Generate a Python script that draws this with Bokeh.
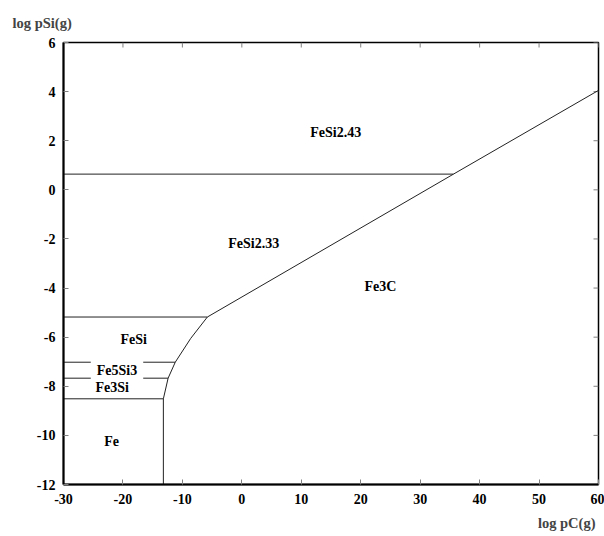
import math
from bokeh.plotting import figure
from bokeh.models import Label, Range1d, FixedTicker, Title
from bokeh.embed import file_html
from bokeh.resources import INLINE

# ---- data ----
x_ticks = [-30, -20, -10, 0, 10, 20, 30, 40, 50, 60]
y_ticks = [-12, -10, -8, -6, -4, -2, 0, 2, 4, 6]
x_min, x_max = -30, 60
y_min, y_max = -12, 6

# phase boundaries (log pC, log pSi)
fesi243_x = [-30, 35.6]
fesi243_y = [0.64, 0.64]
diag_x = [-5.8, 35.6, 60]
diag_y = [-5.18, 0.64, 4.05]
fesi_low_x = [-30, -5.8]
fesi_low_y = [-5.18, -5.18]
curve_x = [-5.8, -8.6, -11.2, -12.4, -13.2, -13.2]
curve_y = [-5.18, -6.05, -7.02, -7.67, -8.51, -12]
fe5si3_x = [-30, -11.2]
fe5si3_y = [-7.02, -7.02]
fe3si_x = [-30, -12.4]
fe3si_y = [-7.67, -7.67]
fe_x = [-30, -13.2]
fe_y = [-8.51, -8.51]

phase_names = ["FeSi2.43", "FeSi2.33", "Fe3C", "FeSi", "Fe5Si3", "Fe3Si", "Fe"]
phase_x = [15.8, 2.0, 23.3, -18.2, -21.0, -21.8, -21.9]
phase_y = [2.34, -2.17, -3.92, -6.11, -7.36, -8.07, -10.26]

FONT = "Liberation Serif"

p = figure(width=604, height=536, x_range=Range1d(x_min, x_max), y_range=Range1d(y_min, y_max),
           output_backend="svg", toolbar_location=None,
           min_border_left=63, min_border_right=6, min_border_top=42, min_border_bottom=51)
p.outline_line_color = "black"
p.outline_line_width = 1.5
p.xgrid.grid_line_color = None
p.ygrid.grid_line_color = None

xb = p.xaxis[0]
xb.ticker = FixedTicker(ticks=x_ticks)
xb.major_label_overrides = {t: str(t) for t in x_ticks}
yl = p.yaxis[0]
yl.ticker = FixedTicker(ticks=y_ticks)
yl.major_label_overrides = {t: str(t) for t in y_ticks}

for ax in (xb, yl):
    ax.axis_line_width = 2
    ax.axis_line_color = "black"
    ax.major_tick_in = 5
    ax.major_tick_out = 0
    ax.major_tick_line_color = "#808080"
    ax.minor_tick_line_color = None
    ax.major_label_text_font = FONT
    ax.major_label_text_font_style = "bold"
    ax.major_label_text_font_size = "14px"
    ax.major_label_text_color = "black"
xb.major_label_standoff = 9
yl.major_label_standoff = 8

# inward ticks on the top and right frame edges
p.ray(x=x_ticks, y=[y_max] * len(x_ticks), length=5, length_units="screen",
      angle=-math.pi / 2, line_color="#808080", line_width=1)
p.ray(x=[x_max] * len(y_ticks), y=y_ticks, length=5, length_units="screen",
      angle=math.pi, line_color="#808080", line_width=1)

for xs, ys in [(fesi243_x, fesi243_y), (diag_x, diag_y), (fesi_low_x, fesi_low_y),
               (curve_x, curve_y), (fe5si3_x, fe5si3_y), (fe3si_x, fe3si_y), (fe_x, fe_y)]:
    p.line(xs, ys, line_color="#222222", line_width=1)

for name, x, y in zip(phase_names, phase_x, phase_y):
    kw = {}
    if name == "Fe5Si3":
        kw = dict(background_fill_color="white", padding=6)
    p.add_layout(Label(x=x, y=y, text=name, text_font=FONT, text_font_style="bold",
                       text_font_size="14px", text_align="center", text_baseline="middle",
                       text_color="black", **kw))

p.add_layout(Title(text="log pSi(g)", align="left", offset=-51, standoff=24,
                   text_font=FONT, text_font_style="bold", text_font_size="14.5px"), "above")
p.add_layout(Title(text="log pC(g)", align="right", offset=3, standoff=12,
                   text_font=FONT, text_font_style="bold", text_font_size="14.5px"), "below")

open("out.html", "w").write(file_html(p, INLINE))
